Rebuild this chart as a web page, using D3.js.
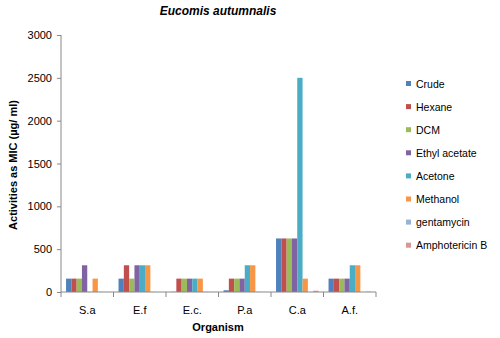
<!DOCTYPE html>
<html lang="en">
<head>
<meta charset="UTF-8">
<title>Eucomis autumnalis</title>
<script src="https://cdn.jsdelivr.net/npm/d3@7"></script>
<style>
  body { margin: 0; background: #fff; }
  text { font-family: "Liberation Sans", Arial, sans-serif; fill: #000; }
  .axis path, .axis line { stroke: #888; }
</style>
</head>
<body>
<script>
// organisms (x categories)
var organisms = ["S.a", "E.f", "E.c.", "P.a", "C.a", "A.f."];
// extract / control series
var seriesNames = ["Crude", "Hexane", "DCM", "Ethyl acetate", "Acetone", "Methanol", "gentamycin", "Amphotericin B"];
var crude       = [156, 156, 2, 20, 625, 156];
var hexane      = [156, 312, 156, 156, 625, 156];
var dcm         = [156, 156, 156, 156, 625, 156];
var ethylAc     = [312, 312, 156, 156, 625, 156];
var acetone     = [2, 312, 156, 312, 2500, 312];
var methanol    = [156, 312, 156, 312, 156, 312];
var gentamycin  = [2, 2, 2, 2, 0, 0];
var amphoB      = [0, 0, 0, 0, 15, 4];
var yTicks = [0, 500, 1000, 1500, 2000, 2500, 3000];

var colors = ["#4F81BD", "#C0504D", "#9BBB59", "#8064A2", "#4BACC6", "#F79646", "#95B3D7", "#D99694"];
var allSeries = [crude, hexane, dcm, ethylAc, acetone, methanol, gentamycin, amphoB];

var svg = d3.select("body").append("svg")
    .attr("width", 500).attr("height", 338);

var pLeft = 61, pRight = 376, pTop = 35, pBottom = 292;

var x0 = d3.scaleBand().domain(organisms).range([pLeft, pRight]);
var x1 = d3.scaleBand().domain(seriesNames)
    .range([0, x0.bandwidth()]).paddingOuter(0.95);
var y = d3.scaleLinear().domain([0, 3000]).range([pBottom, pTop]);

// y axis
svg.append("g").attr("class", "axis")
    .attr("transform", "translate(" + pLeft + ",0)")
    .call(d3.axisLeft(y).tickValues(yTicks).tickFormat(d3.format("d")).tickSize(4).tickPadding(5))
    .call(g => g.select(".domain").attr("d", "M0," + pTop + "V" + pBottom))
    .selectAll("text").style("font-size", "11px").attr("fill", "#000");

// bars
var groups = svg.append("g").selectAll("g")
    .data(organisms).enter().append("g")
    .attr("transform", d => "translate(" + x0(d) + ",0)");

groups.selectAll("rect")
    .data((d, i) => seriesNames.map((s, j) => ({ s: s, v: allSeries[j][i], c: colors[j] })))
    .enter().append("rect")
    .attr("x", d => x1(d.s))
    .attr("width", x1.bandwidth())
    .attr("y", d => y(d.v))
    .attr("height", d => pBottom - y(d.v))
    .attr("fill", d => d.c);

// x axis
var xg = svg.append("g").attr("class", "axis")
    .attr("transform", "translate(0," + pBottom + ")");
xg.append("line").attr("x1", pLeft).attr("x2", pRight).attr("stroke", "#888");
xg.selectAll(".tk").data(organisms.concat(["end"])).enter().append("line")
    .attr("x1", (d, i) => pLeft + i * x0.bandwidth())
    .attr("x2", (d, i) => pLeft + i * x0.bandwidth())
    .attr("y1", 0).attr("y2", 5).attr("stroke", "#888");
xg.selectAll(".lbl").data(organisms).enter().append("text")
    .attr("x", d => x0(d) + x0.bandwidth() / 2)
    .attr("y", 22).attr("text-anchor", "middle")
    .style("font-size", "11px").text(d => d);

// titles
svg.append("text").attr("x", 218).attr("y", 15).attr("text-anchor", "middle")
    .style("font-size", "12px").style("font-weight", "bold").style("font-style", "italic")
    .text("Eucomis autumnalis");
svg.append("text").attr("x", 218).attr("y", 331).attr("text-anchor", "middle")
    .style("font-size", "11px").style("font-weight", "bold").text("Organism");
svg.append("text").attr("transform", "translate(17,165) rotate(-90)")
    .attr("text-anchor", "middle")
    .style("font-size", "11px").style("font-weight", "bold")
    .text("Activities as MIC (µg/ ml)");

// legend
var leg = svg.append("g").selectAll("g").data(seriesNames).enter().append("g")
    .attr("transform", (d, i) => "translate(406," + (84 + i * 23.1) + ")");
leg.append("rect").attr("x", 0).attr("y", -3).attr("width", 5).attr("height", 5)
    .attr("fill", (d, i) => colors[i]);
leg.append("text").attr("x", 10).attr("y", 3.5)
    .style("font-size", "10.5px").text(d => d);
</script>
</body>
</html>
